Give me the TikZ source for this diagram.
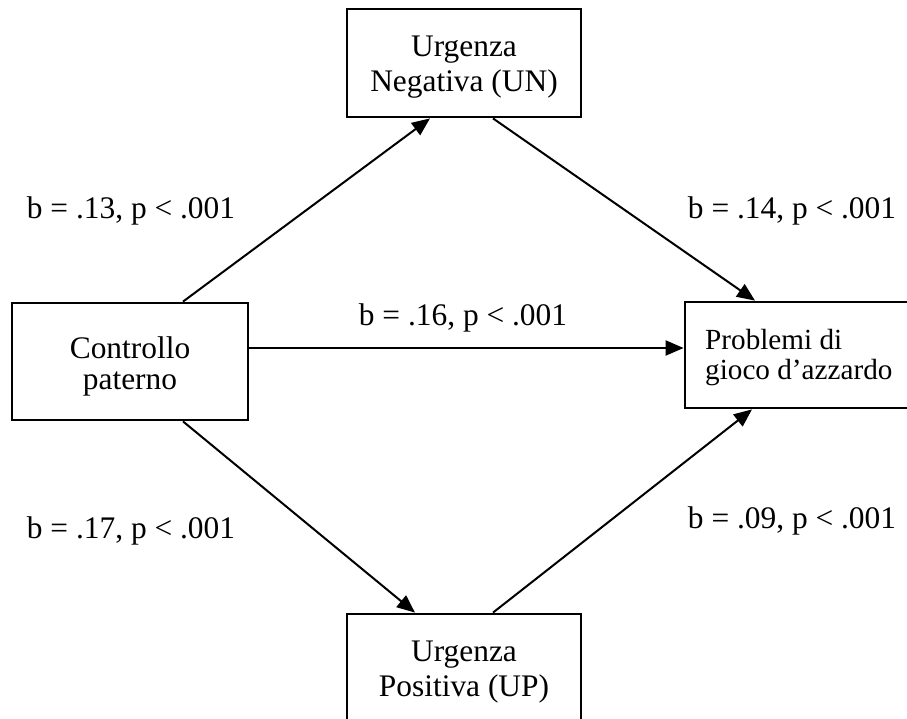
\documentclass[tikz,border=0pt]{standalone}
\usepackage{fontspec}
\setmainfont{Liberation Serif}
\usetikzlibrary{arrows.meta}
\begin{document}
\begin{tikzpicture}[x=1pt,y=-1pt,
  box/.style={draw,line width=2.8pt,inner sep=0pt},
  lbl/.style={font=\fontsize{31.4}{35}\selectfont,anchor=base,inner sep=0pt},
  btxt/.style={font=\fontsize{31.4}{35}\selectfont,align=center,inner sep=0pt},
  conn/.style={line width=2pt,-{Triangle[length=18pt,width=15pt]}}]
\useasboundingbox (0,0) rectangle (907,718);
% boxes
\node[box,minimum width=234pt,minimum height=108pt] (top) at (464,63) {};
\node[box,minimum width=236pt,minimum height=117pt] (left) at (130,361.5) {};
\node[box,minimum width=225pt,minimum height=106pt] (right) at (797.5,355) {};
\node[box,minimum width=234pt,minimum height=120pt] (bot) at (464,674) {};
% box texts
\node[btxt] (toptxt) at (464,67.5) {Urgenza\\Negativa (UN)};
\node[btxt,font=\fontsize{31.4}{31}\selectfont] (lefttxt) at (130,366) {Controllo\\paterno};
\node[btxt] (bottxt) at (464,672) {Urgenza\\Positiva (UP)};
\node[inner sep=0pt,align=left,anchor=west,font=\fontsize{29.2}{30}\selectfont] (righttxt) at (705,358) {Problemi di\\gioco d’azzardo};
% connectors
\draw[conn] ([xshift=53pt]left.north) -- ([xshift=-34pt]top.south);
\draw[conn] ([xshift=29pt]top.south) -- ([xshift=-42.5pt]right.north);
\draw[conn] ([yshift=13.5pt]left.east) -- ([yshift=7pt]right.west);
\draw[conn] ([xshift=53pt]left.south) -- ([xshift=-49pt]bot.north);
\draw[conn] ([xshift=29pt]bot.north) -- ([xshift=-45.5pt]right.south);
% labels
\node[lbl] (l13) at (131,218) {b = .13, p < .001};
\node[lbl] (l14) at (792,218) {b = .14, p < .001};
\node[lbl] (l16) at (463,325) {b = .16, p < .001};
\node[lbl] (l17) at (131,538) {b = .17, p < .001};
\node[lbl] (l09) at (792,528) {b = .09, p < .001};
\end{tikzpicture}
\end{document}
